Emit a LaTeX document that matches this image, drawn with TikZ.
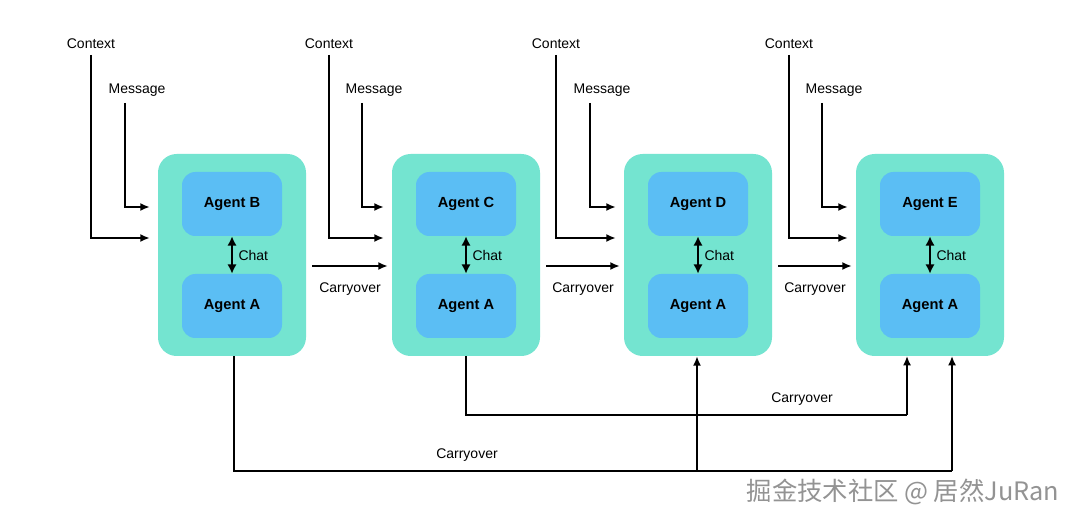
\documentclass[tikz,border=0pt]{standalone}
\usepackage{fontspec}
\setmainfont{Liberation Sans}
\newfontfamily\cjk{Noto Sans CJK SC}
\usetikzlibrary{arrows.meta}
\definecolor{outerc}{HTML}{74E4D0}
\definecolor{innerc}{HTML}{5BBEF4}
\begin{document}
\begin{tikzpicture}[x=0.75pt,y=-0.75pt,
  outer/.style={fill=outerc,draw=none,rounded corners=14pt,minimum width=111pt,minimum height=151.5pt,inner sep=0pt},
  inner/.style={fill=innerc,draw=none,rounded corners=10pt,minimum width=75pt,minimum height=48pt,font=\bfseries\fontsize{11}{13}\selectfont,inner sep=0pt},
  lbl/.style={font=\fontsize{10.5}{12}\selectfont,inner sep=1pt},
  ar/.style={line width=1.3pt,-{Latex[length=7pt,width=6pt]}},
  ln/.style={line width=1.3pt},
  dar/.style={line width=1.8pt,{Latex[length=7pt,width=7pt]}-{Latex[length=7pt,width=7pt]}}]
\useasboundingbox (0,0) rectangle (1071,523);
\fill[white] (0,0) rectangle (1071,523);
\foreach \i/\x/\L/\cx/\mx in {1/232/B/91/125, 2/466/C/329/362, 3/698/D/556/590, 4/930/E/789/822}{
  \node[outer] (o\i) at (\x,255) {};
  \node[inner] (t\i) at (\x,204) {\raisebox{-2pt}{Agent \L}};
  \node[inner] (b\i) at (\x,306) {\raisebox{-2pt}{Agent A}};
  \draw[dar] (t\i.south) -- (b\i.north) node[midway,right,lbl,xshift=3pt] {Chat};
  \node[lbl,anchor=south] (ctx\i) at (\cx,50) {Context};
  \node[lbl,anchor=south] (msg\i) at (\mx+12,98) {Message};
  \coordinate (c\i) at (\cx,55);
  \coordinate (m\i) at (\mx,103);
  \draw[ar] (c\i) |- ([shift={(-8,-17)}]o\i.west);
  \draw[ar] (m\i) |- ([shift={(-8,-48)}]o\i.west);
}
\foreach \a/\b in {1/2,2/3,3/4}{
  \draw[ar] ([shift={(6,11)}]o\a.east) -- ([shift={(-4,11)}]o\b.west)
    node[pos=0.5,below=11pt,lbl] {Carryover};
}
\coordinate (j1) at (234,471);
\coordinate (j2) at (466,415);
\draw[ln] (o1.south -| j1) -- (j1) -- (952,471);
\draw[ar] (952,471) -- (952,356);
\draw[ar] (697,471) -- (o3.south -| 697,0);
\draw[ln] (o2.south) -- (j2) -- (907,415);
\draw[ar] (907,415) -- (907,356);
\node[lbl] at (802,399) {Carryover};
\node[lbl] at (467,455) {Carryover};
\node[font=\cjk\fontsize{19}{22}\selectfont,text=gray!85] at (903,492) {掘金技术社区 @ 居然JuRan};
\end{tikzpicture}
\end{document}
